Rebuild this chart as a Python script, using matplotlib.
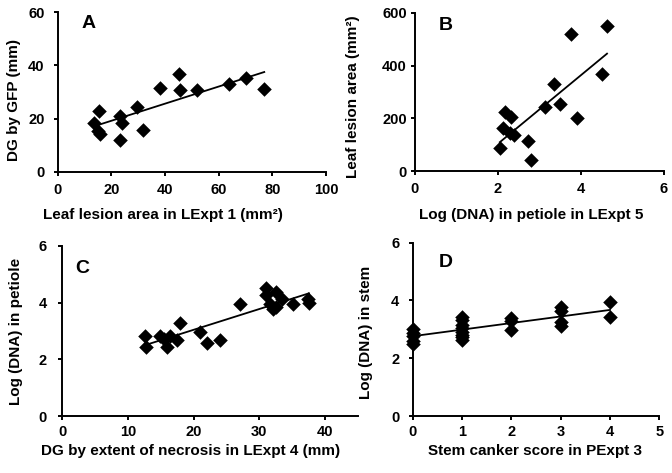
import numpy as np
import matplotlib
matplotlib.use("Agg")
import matplotlib.pyplot as plt

plt.rcParams['font.family'] = ['Liberation Sans', 'DejaVu Sans']
plt.rcParams['font.weight'] = 'bold'

# Panel A
a_x = [13.6, 15.5, 14.9, 15.7, 23.2, 23.8, 23.2, 29.6, 31.8, 38.0, 45.1, 45.4, 52.0, 63.8, 70.2, 77.0]
a_y = [18.2, 23.0, 15.5, 14.2, 20.8, 18.5, 11.9, 24.5, 15.7, 31.4, 36.9, 30.8, 30.6, 33.1, 35.2, 31.1]
# Panel B
b_x = [2.05, 2.13, 2.17, 2.31, 2.29, 2.39, 2.73, 2.79, 3.13, 3.35, 3.51, 3.77, 3.91, 4.51, 4.63]
b_y = [88, 165, 225, 206, 143, 136, 114, 44, 244, 332, 253, 519, 202, 368, 549]
# Panel C
c_x = [12.6, 12.7, 14.8, 15.5, 15.9, 16.4, 17.5, 17.9, 21.0, 22.0, 24.0, 27.0,
       31.0, 31.1, 31.7, 32.1, 32.6, 32.5, 33.5, 35.2, 37.5, 37.6]
c_y = [2.82, 2.45, 2.82, 2.71, 2.45, 2.82, 2.68, 3.27, 2.96, 2.59, 2.68, 3.96,
       4.50, 4.26, 3.94, 3.79, 3.86, 4.38, 4.12, 3.94, 4.14, 3.98]
# Panel D
d_x = [0, 0, 0, 0, 0,
       1, 1, 1, 1, 1, 1, 1, 1,
       2, 2, 2,
       3, 3, 3, 3,
       4, 4]
d_y = [3.02, 2.87, 2.76, 2.59, 2.50,
       3.42, 3.32, 3.16, 3.03, 2.92, 2.82, 2.72, 2.62,
       3.40, 3.30, 2.96,
       3.76, 3.64, 3.24, 3.10,
       3.93, 3.41]

panels = [
    dict(x=a_x, y=a_y, xlim=(0, 100), xt=[0, 20, 40, 60, 80, 100], ylim=(0, 60), yt=[0, 20, 40, 60],
         xl='Leaf lesion area in LExpt 1 (mm²)', yl='DG by GFP (mm)', letter='A',
         rect=[0.086, 0.637, 0.399, 0.337], lp=(0.114, 0.93),
         xpad=5.2, ypad=6.5, xlc=(0.392, -0.228), ylc=(-0.138, 0.45)),
    dict(x=b_x, y=b_y, xlim=(0, 6), xt=[0, 2, 4, 6], ylim=(0, 600), yt=[0, 200, 400, 600],
         xl='Log (DNA) in petiole in LExpt 5', yl='Leaf lesion area (mm²)', letter='B',
         rect=[0.617, 0.638, 0.371, 0.335], lp=(0.126, 0.92),
         xpad=4.5, ypad=2.5, xlc=(0.469, -0.234), ylc=(-0.219, 0.47)),
    dict(x=c_x, y=c_y, xlim=(0, 45), xt=[0, 10, 20, 30, 40], ylim=(0, 6), yt=[0, 2, 4, 6],
         xl='DG by extent of necrosis in LExpt 4 (mm)', yl='Log (DNA) in petiole', letter='C',
         rect=[0.093, 0.1205, 0.439, 0.3595], lp=(0.067, 0.87),
         xpad=3.7, ypad=8.4, xlc=(0.435, -0.165), ylc=(-0.134, 0.5)),
    dict(x=d_x, y=d_y, xlim=(0, 5), xt=[0, 1, 2, 3, 4, 5], ylim=(0, 6), yt=[0, 2, 4, 6],
         xl='Stem canker score in PExpt 3', yl='Log (DNA) in stem', letter='D',
         rect=[0.614, 0.1205, 0.367, 0.3665], lp=(0.135, 0.885),
         xpad=3.7, ypad=6.5, xlc=(0.497, -0.162), ylc=(-0.162, 0.48)),
]

fig = plt.figure(figsize=(6.72, 4.73), dpi=100)
for p in panels:
    ax = fig.add_axes(p['rect'])
    x = np.array(p['x'], float)
    y = np.array(p['y'], float)
    ax.scatter(x, y, marker='D', s=55, color='black', zorder=3, linewidths=0, clip_on=False)
    k, b = np.polyfit(x, y, 1)
    xs = np.array([x.min(), x.max()])
    ax.plot(xs, k * xs + b, color='black', lw=1.3, zorder=2)
    ax.set_xlim(*p['xlim'])
    ax.set_ylim(*p['ylim'])
    ax.set_xticks(p['xt'])
    ax.set_yticks(p['yt'])
    for s in ['top', 'right']:
        ax.spines[s].set_visible(False)
    for s in ['left', 'bottom']:
        ax.spines[s].set_linewidth(1.4)
    ax.tick_params(direction='out', length=3, width=1.4, labelsize=10.5)
    ax.tick_params(axis='x', pad=p['xpad'])
    ax.tick_params(axis='y', pad=p['ypad'])
    for lab in ax.get_xticklabels() + ax.get_yticklabels():
        lab.set_fontweight('bold')
    ax.set_xlabel(p['xl'], fontsize=11, fontweight='bold')
    ax.set_ylabel(p['yl'], fontsize=11, fontweight='bold')
    ax.xaxis.set_label_coords(*p['xlc'])
    ax.yaxis.set_label_coords(*p['ylc'])
    ax.text(p['lp'][0], p['lp'][1], p['letter'], transform=ax.transAxes, fontsize=14,
            fontweight='bold', ha='center', va='center')
    ax.set_facecolor('none')

fig.savefig('out.png', dpi=100)
